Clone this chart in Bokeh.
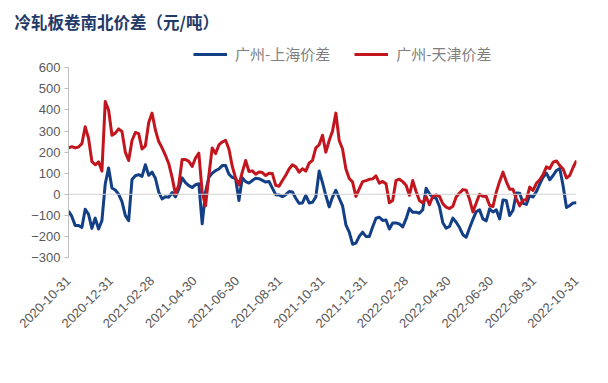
import math
import pandas as pd
from bokeh.plotting import figure
from bokeh.models import (Range1d, FixedTicker, Span, Legend, LegendItem,
                          DatetimeTickFormatter)
from bokeh.embed import file_html
from bokeh.resources import INLINE

# ---- data ----
start_date = "2020-10-31"
end_date = "2022-10-31"

# 广州-上海价差 (yuan/ton)
gz_sh = [
    -79, -105, -148, -148, -158, -71, -95, -162, -113, -165, -125, 50, 125, 30, 20, 0,
    -35, -100, -125, 70, 88, 93, 85, 140, 90, 105, 76, 10, -22, -12, -14, 8,
    -12, 25, 78, 55, 41, 32, 45, 50, -140, 10, 80, 100, 112, 120, 136, 136,
    95, 80, 74, -30,
    78, 60, 53, 65, 76, 74, 66, 58, 61, 29, -2, -3, -11, -2, 13, 11,
    -19, -43, -41, -5, -41, -38, -13, 110, 55, -6, -60, -13, 19, -19, -55, -145,
    -180, -237, -232, -200, -180, -200, -200, -155, -114, -109, -124, -122, -165, -136, -136, -141,
    -155, -117, -67, -85,
    -85, -90, -73, 29, 2, -13, -19, -58, -135, -161, -153, -113, -133, -158, -192, -204,
    -160, -119, -82, -74, -117, -126, -69, -84, -74, -117, -27, -30, -101, -76, 6, 5,
    -43, -48, -6, -13, 13, 48, 81, 100, 69, 89, 113, 122, 39, -63, -53, -41,
    -40,
]

# 广州-天津价差 (yuan/ton)
gz_tj = [
    220, 226, 220, 224, 240, 320, 265, 155, 140, 154, 110, 440, 400, 280, 290, 310,
    298, 200, 160, 255, 293, 288, 215, 230, 340, 385, 305, 250, 220, 185, 145, 80,
    0, 45, 165, 165, 156, 132, 172, 195, 10, -55, 90, 220, 193, 234, 248, 256,
    215, 133, 77, 45,
    105, 160, 108, 111, 95, 106, 103, 89, 100, 98, 42, 38, 65, 90, 120, 140,
    130, 105, 121, 110, 148, 161, 220, 235, 280, 200, 255, 300, 385, 255, 215, 120,
    75, 58, -10, 26, 60, 65, 71, 73, 87, 53, 61, 50, -40, -30, 66, 71,
    60, 43, -5, 65,
    13, -30, -41, -11, -49, -10, -3, -10, -45, -61, -68, -57, -13, 6, 22, 19,
    -24, -84, -41, 0, -10, -11, -52, -58, 10, 61, 105, 60, 24, 24, -22, -55,
    -27, -27, 34, 18, 52, 69, 93, 130, 122, 152, 158, 136, 120, 77, 90, 128,
    160,
]

tick_dates = ["2020-10-31", "2020-12-31", "2021-02-28", "2021-04-30", "2021-06-30",
              "2021-08-31", "2021-10-31", "2021-12-31", "2022-02-28", "2022-04-30",
              "2022-06-30", "2022-08-31", "2022-10-31"]
y_ticks = [-300, -200, -100, 0, 100, 200, 300, 400, 500, 600]
y_min, y_max = -300, 600

title_text = "冷轧板卷南北价差（元/吨）"
name_sh = "广州-上海价差"
name_tj = "广州-天津价差"

dates = pd.date_range(start_date, end_date, periods=len(gz_sh))

BLUE = "#123F86"
RED = "#C3151D"
GRAY_TXT = "#595959"
AX = "#BFBFBF"

# layout (page has no margin): value 600 at y≈67.3, -300 at y≈256.7
W, H = 608, 383
TOP_BORDER = 38
BOTTOM_BORDER = 126
px_per_unit = (H - BOTTOM_BORDER - 67.3) / (y_max - y_min)
y_top = y_max + (67.3 - TOP_BORDER) / px_per_unit

p = figure(width=W, height=H, x_axis_type="datetime",
           x_range=Range1d(pd.Timestamp(start_date), pd.Timestamp(end_date)),
           y_range=Range1d(y_min, y_top),
           output_backend="svg", toolbar_location=None,
           min_border_left=68, min_border_right=32,
           min_border_top=TOP_BORDER, min_border_bottom=BOTTOM_BORDER)
p.outline_line_color = None
p.xgrid.visible = False
p.ygrid.visible = False
p.background_fill_color = "white"
p.border_fill_color = "white"

# title
p.title.text = title_text
p.title.align = "left"
p.title.offset = -54
p.title.text_font = "Noto Sans CJK SC"
p.title.text_font_style = "bold"
p.title.text_font_size = "16.5px"
p.title.text_color = "#1F3A68"
p.title.standoff = 10

# zero line (horizontal axis crossing at 0)
p.add_layout(Span(location=0, dimension="width", line_color="#D0D0D0", line_width=1))

r_sh = p.line(dates, gz_sh, line_color=BLUE, line_width=3, line_join="round")
r_tj = p.line(dates, gz_tj, line_color=RED, line_width=3, line_join="round")

# x axis
xa = p.xaxis[0]
xa.ticker = FixedTicker(ticks=[pd.Timestamp(d).timestamp() * 1000 for d in tick_dates])
xa.formatter = DatetimeTickFormatter(days="%Y-%m-%d", months="%Y-%m-%d", years="%Y-%m-%d")
xa.major_label_orientation = math.pi / 4
xa.axis_line_color = None
xa.major_tick_line_color = None
xa.minor_tick_line_color = None
xa.major_label_text_font = "Liberation Sans"
xa.major_label_text_font_size = "13px"
xa.major_label_text_color = GRAY_TXT
xa.major_label_standoff = 15

# y axis
ya = p.yaxis[0]
ya.ticker = FixedTicker(ticks=y_ticks)
ya.bounds = (y_min, y_max)
ya.major_label_overrides = {t: (("\u2212" + str(-t)) if t < 0 else str(t)) for t in y_ticks}
ya.axis_line_color = AX
ya.major_tick_line_color = AX
ya.major_tick_in = 0
ya.major_tick_out = 4
ya.minor_tick_line_color = None
ya.major_label_text_font = "Liberation Sans"
ya.major_label_text_font_size = "13px"
ya.major_label_text_color = GRAY_TXT
ya.major_label_standoff = 4

# legend (inside the frame's empty top band)
legend = Legend(items=[LegendItem(label=name_sh, renderers=[r_sh]),
                       LegendItem(label=name_tj, renderers=[r_tj])],
                orientation="horizontal", location=(125, 193),
                glyph_width=34, glyph_height=20, label_standoff=8, spacing=24,
                padding=0, margin=0, border_line_color=None, background_fill_alpha=0,
                label_text_font="Noto Sans CJK SC", label_text_font_size="15px",
                label_text_color="#7F7F7F", label_text_baseline="middle")
p.add_layout(legend)

open("out.html", "w").write(file_html(p, INLINE))
